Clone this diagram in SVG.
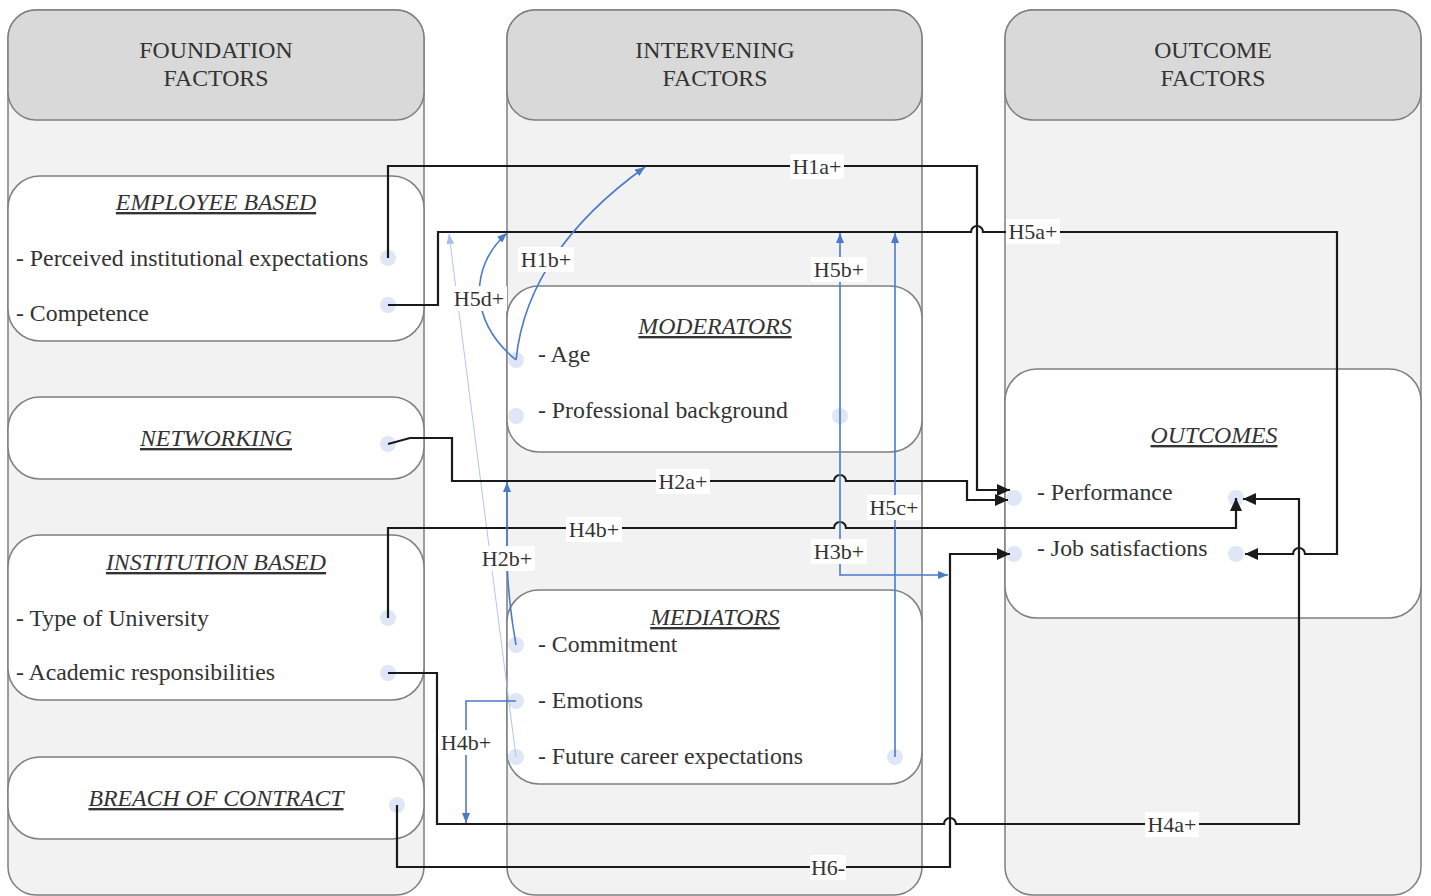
<svg xmlns="http://www.w3.org/2000/svg" width="1431" height="896" viewBox="0 0 1431 896">
<style>
.lane{fill:#f2f2f2;stroke:#7f7f7f;stroke-width:1.5}
.hdr{fill:#d9d9d9;stroke:#7f7f7f;stroke-width:1.5}
.node{fill:#fff;stroke:#7f7f7f;stroke-width:1.5}
text{font-family:"Liberation Serif","Times New Roman",serif;font-size:23.8px;fill:#333}
.c{text-anchor:middle}
.title{font-style:italic;text-decoration:underline;text-anchor:middle}
.dot{fill:#dfe7f6}
.k{fill:none;stroke:#1a1a1a;stroke-width:2.2}
.b{fill:none;stroke:#4a7acb;stroke-width:1.6}
.thin{fill:none;stroke:#a8c0ea;stroke-width:0.9}
.lbl{font-size:22px;text-anchor:middle}
.lb{fill:#fff}
</style>
<defs>
<marker id="ak" markerUnits="userSpaceOnUse" markerWidth="14" markerHeight="12" refX="13" refY="6" orient="auto"><path d="M0,0 L13,6 L0,12 z" fill="#1a1a1a"/></marker>
<marker id="ab" markerUnits="userSpaceOnUse" markerWidth="10" markerHeight="8" refX="10" refY="4" orient="auto"><path d="M0,0 L10,4 L0,8 z" fill="#4a7acb"/></marker>
<marker id="at" markerUnits="userSpaceOnUse" markerWidth="10" markerHeight="8" refX="10" refY="4" orient="auto"><path d="M0,0 L10,4 L0,8 z" fill="#a8c0ea"/></marker>
</defs>

<g id="lane-foundation">
<rect class="lane" x="8" y="10" width="416" height="885" rx="28"/>
<rect class="hdr" x="8" y="10" width="416" height="110" rx="28"/>
<text class="c" x="216" y="58">FOUNDATION</text>
<text class="c" x="216" y="86">FACTORS</text>
</g>
<g id="lane-intervening">
<rect class="lane" x="507" y="10" width="415" height="885" rx="28"/>
<rect class="hdr" x="507" y="10" width="415" height="110" rx="28"/>
<text class="c" x="715" y="58">INTERVENING</text>
<text class="c" x="715" y="86">FACTORS</text>
</g>
<g id="lane-outcome">
<rect class="lane" x="1005" y="10" width="416" height="885" rx="28"/>
<rect class="hdr" x="1005" y="10" width="416" height="110" rx="28"/>
<text class="c" x="1213" y="58">OUTCOME</text>
<text class="c" x="1213" y="86">FACTORS</text>
</g>

<g id="employee-based">
<rect class="node" x="8" y="176" width="416" height="165" rx="32"/>
<text class="title" x="216" y="210">EMPLOYEE BASED</text>
<text x="16" y="266">- Perceived institutional expectations</text>
<text x="16" y="321">- Competence</text>
<circle class="dot" cx="388" cy="258" r="8"/>
<circle class="dot" cx="388" cy="305" r="8"/>
</g>
<g id="networking">
<rect class="node" x="8" y="397" width="416" height="82" rx="32"/>
<text class="title" x="216" y="446">NETWORKING</text>
<circle class="dot" cx="388" cy="444" r="8"/>
</g>
<g id="institution-based">
<rect class="node" x="8" y="535" width="416" height="165" rx="32"/>
<text class="title" x="216" y="570">INSTITUTION BASED</text>
<text x="16" y="626">- Type of University</text>
<text x="16" y="680">- Academic responsibilities</text>
<circle class="dot" cx="388" cy="618" r="8"/>
<circle class="dot" cx="388" cy="673" r="8"/>
</g>
<g id="breach-of-contract">
<rect class="node" x="8" y="757" width="416" height="82" rx="32"/>
<text class="title" x="216" y="806">BREACH OF CONTRACT</text>
<circle class="dot" cx="397" cy="805" r="8"/>
</g>
<g id="moderators">
<rect class="node" x="507" y="286" width="415" height="166" rx="32"/>
<text class="title" x="715" y="334">MODERATORS</text>
<text x="538" y="362">- Age</text>
<text x="538" y="418">- Professional background</text>
<circle class="dot" cx="516" cy="360" r="8"/>
<circle class="dot" cx="516" cy="416" r="8"/>
<circle class="dot" cx="840" cy="416" r="8"/>
</g>
<g id="mediators">
<rect class="node" x="507" y="590" width="415" height="194" rx="32"/>
<text class="title" x="715" y="625">MEDIATORS</text>
<text x="538" y="652">- Commitment</text>
<text x="538" y="708">- Emotions</text>
<text x="538" y="764">- Future career expectations</text>
<circle class="dot" cx="516" cy="645" r="8"/>
<circle class="dot" cx="516" cy="701" r="8"/>
<circle class="dot" cx="516" cy="757" r="8"/>
<circle class="dot" cx="895" cy="757" r="8"/>
</g>
<g id="outcomes">
<rect class="node" x="1005" y="369" width="416" height="249" rx="32"/>
<text class="title" x="1214" y="443">OUTCOMES</text>
<text x="1037" y="500">- Performance</text>
<text x="1037" y="556">- Job satisfactions</text>
<circle class="dot" cx="1014" cy="498" r="8"/>
<circle class="dot" cx="1014" cy="554" r="8"/>
<circle class="dot" cx="1236" cy="498" r="8"/>
<circle class="dot" cx="1236" cy="554" r="8"/>
</g>

<g id="connectors">
<path class="thin" d="M516,757 L449,234" marker-end="url(#at)"/>
<path class="k" d="M388,258 V166 H977 V490 H1010" marker-end="url(#ak)"/>
<path class="k" d="M388,305 H438 V232 H971 a6,6 0 0 1 12,0 H1337 V554 H1305 a6,6 0 0 0 -12,0 H1245" marker-end="url(#ak)"/>
<path class="k" d="M388,444 L410,438 H452 V481 H834 a6,6 0 0 1 12,0 H967 V500 H1008" marker-end="url(#ak)"/>
<path class="k" d="M388,618 V528 H834 a6,6 0 0 1 12,0 H1236 V498" marker-end="url(#ak)"/>
<path class="k" d="M388,673 H437 V824 H944 a6,6 0 0 1 12,0 H1299 V499 H1243" marker-end="url(#ak)"/>
<path class="k" d="M397,805 V867 H950 V554 H1010" marker-end="url(#ak)"/>
<path class="b" d="M516,360 C522,300 555,232 645,167" marker-end="url(#ab)"/>
<path class="b" d="M516,360 C470,322 468,268 507,233" marker-end="url(#ab)"/>
<path class="b" d="M840,416 V233" marker-end="url(#ab)"/>
<path class="b" d="M840,416 V575 H948" marker-end="url(#ab)"/>
<path class="b" d="M895,757 V233" marker-end="url(#ab)"/>
<path class="b" d="M516,645 Q508,600 507,560 V482" marker-end="url(#ab)"/>
<path class="b" d="M516,701 H466 V823" marker-end="url(#ab)"/>
</g>

<g id="labels">
<rect class="lb" x="790" y="154" width="54" height="25"/><text class="lbl" x="817" y="174">H1a+</text>
<rect class="lb" x="1006" y="219" width="54" height="25"/><text class="lbl" x="1033" y="239">H5a+</text>
<rect class="lb" x="518" y="247" width="56" height="25"/><text class="lbl" x="546" y="267">H1b+</text>
<rect class="lb" x="451" y="286" width="56" height="25"/><text class="lbl" x="479" y="306">H5d+</text>
<rect class="lb" x="811" y="257" width="56" height="25"/><text class="lbl" x="839" y="277">H5b+</text>
<rect class="lb" x="656" y="469" width="54" height="25"/><text class="lbl" x="683" y="489">H2a+</text>
<rect class="lb" x="867" y="495" width="54" height="25"/><text class="lbl" x="894" y="515">H5c+</text>
<rect class="lb" x="566" y="517" width="56" height="25"/><text class="lbl" x="594" y="537">H4b+</text>
<rect class="lb" x="811" y="539" width="56" height="25"/><text class="lbl" x="839" y="559">H3b+</text>
<rect class="lb" x="479" y="546" width="56" height="25"/><text class="lbl" x="507" y="566">H2b+</text>
<rect class="lb" x="438" y="730" width="56" height="25"/><text class="lbl" x="466" y="750">H4b+</text>
<rect class="lb" x="1145" y="812" width="54" height="25"/><text class="lbl" x="1172" y="832">H4a+</text>
<rect class="lb" x="810" y="855" width="36" height="25"/><text class="lbl" x="828" y="875">H6-</text>
</g>
</svg>
